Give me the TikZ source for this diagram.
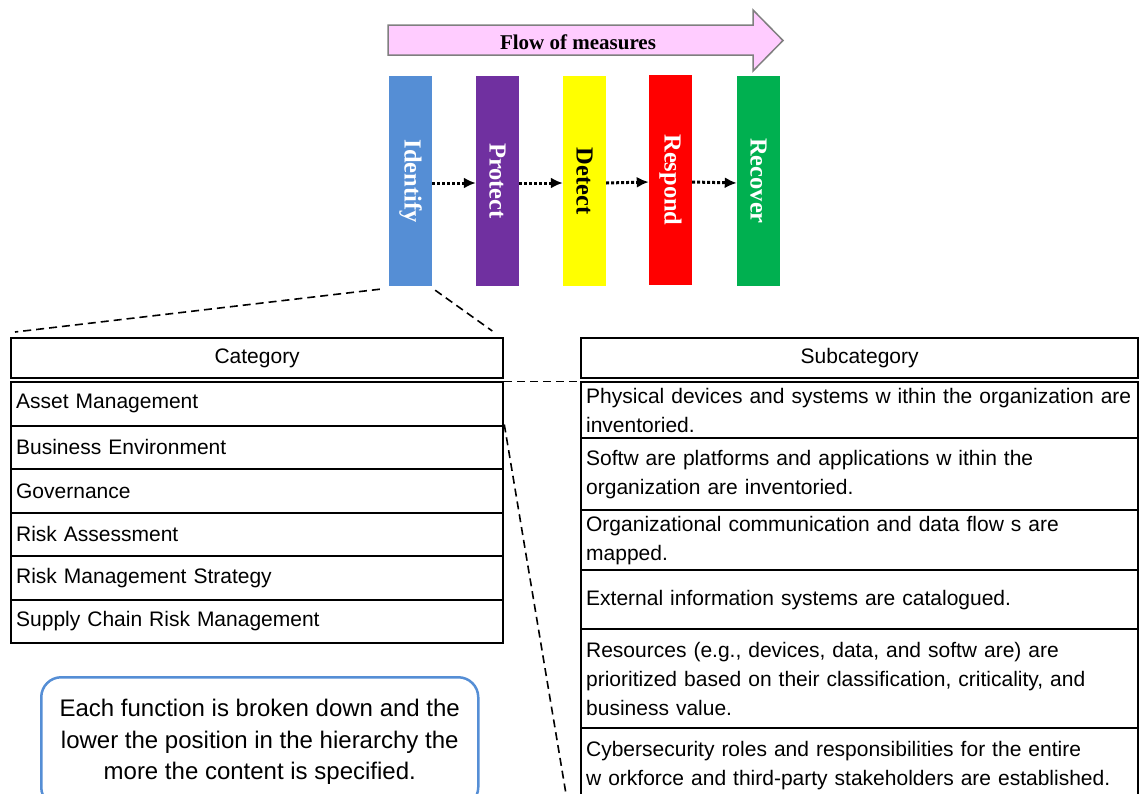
\documentclass[tikz,border=0pt]{standalone}
\usepackage{fontspec}
\usepackage{graphicx}
\setmainfont{Liberation Serif}
\newfontfamily\arialf{Liberation Sans}
\newfontfamily\timesf{Liberation Serif}
\usetikzlibrary{arrows.meta,calc}
\definecolor{idblue}{HTML}{558ED5}
\definecolor{prpurple}{HTML}{7030A0}
\definecolor{deyellow}{HTML}{FFFF00}
\definecolor{rered}{HTML}{FF0000}
\definecolor{recgreen}{HTML}{00B050}
\definecolor{flowpink}{HTML}{FFCCFF}
\definecolor{flowgray}{HTML}{7F7F7F}
\begin{document}
\begin{tikzpicture}[x=1pt,y=-1pt,
  func/.style={minimum width=43pt, minimum height=210pt, inner sep=0pt,
    font=\timesf\bfseries\fontsize{24.5}{28}\selectfont},
  flowdot/.style={line width=3pt, dash pattern=on 3pt off 2pt,
    -{Latex[length=12pt,width=11pt]}},
  flowarrow/.style={fill=flowpink, draw=flowgray, line width=1.5pt},
  tbl/.style={draw=black, line width=2.3pt, anchor=north west, inner xsep=5pt,
    inner ysep=0pt, font=\arialf\fontsize{21}{29}\selectfont},
  cathead/.style={tbl, minimum width=492pt, minimum height=40pt, align=center},
  catrow/.style={tbl, minimum width=492pt, minimum height=43.5pt,
    text width=482pt, align=left},
  subhead/.style={tbl, minimum width=557pt, minimum height=40pt, align=center},
  subrow/.style={tbl, minimum width=557pt, text width=547pt, align=left},
  guide/.style={line width=1.6pt, dash pattern=on 8pt off 5pt},
  notebox/.style={draw=idblue, line width=2.5pt, rounded corners=20pt,
    anchor=north west, minimum width=437pt, minimum height=130pt,
    align=center, font=\arialf\fontsize{24}{31.5}\selectfont}
]
\useasboundingbox (0,0) rectangle (1139,793);
\clip (0,0) rectangle (1139,793);

% flow arrow
\draw[flowarrow] (388,25) -- (753,25) -- (753,10) -- (783,40.5) -- (753,71)
  -- (753,55) -- (388,55) -- cycle;
\node[font=\timesf\bfseries\fontsize{21}{25}\selectfont] (flow) at (578,42)
  {Flow of measures};

% functions
\node[func, fill=idblue, text=white] (id) at (410.5,181) {\rotatebox{-90}{Identify}};
\node[func, fill=prpurple, text=white] (pr) at (497.5,181) {\rotatebox{-90}{Protect}};
\node[func, fill=deyellow, text=black] (de) at (584.5,181) {\rotatebox{-90}{Detect}};
\node[func, fill=rered, text=white] (rs) at (670.5,180) {\rotatebox{-90}{Respond}};
\node[func, fill=recgreen, text=white] (rc) at (758.5,181) {\rotatebox{-90}{Recover}};

\draw[flowdot] ([yshift=-2pt]id.east) -- ([yshift=-2pt]pr.west);
\draw[flowdot] ([yshift=-2pt]pr.east) -- ([yshift=-2pt]de.west);
\draw[flowdot] ([yshift=-2pt]de.east) -- ([yshift=-2pt]rs.west);
\draw[flowdot] ([yshift=-2pt]rs.east) -- ([yshift=-2pt]rc.west);

% category table
\node[cathead] (cath) at (10,337) {Category};
\node[catrow] (c1) at (10,381) {Asset Management};
\node[catrow] (c2) at (10,424.5) {Business Environment};
\node[catrow] (c3) at (10,468) {Governance};
\node[catrow] (c4) at (10,511.5) {Risk Assessment};
\node[catrow] (c5) at (10,555) {Risk Management Strategy};
\node[catrow] (c6) at (10,598.5) {Supply Chain Risk Management};

% subcategory table
\node[subhead] (subh) at (580,337) {Subcategory};
\node[subrow, minimum height=56pt] (s1) at (580,381)
  {Physical devices and systems w ithin the organization are\\inventoried.};
\node[subrow, minimum height=72pt] (s2) at (580,437)
  {Softw are platforms and applications w ithin the\\organization are inventoried.};
\node[subrow, minimum height=60pt] (s3) at (580,509)
  {Organizational communication and data flow s are\\mapped.};
\node[subrow, minimum height=59pt] (s4) at (580,569)
  {External information systems are catalogued.};
\node[subrow, minimum height=99pt] (s5) at (580,628)
  {Resources (e.g., devices, data, and softw are) are\\prioritized based on their classification, criticality, and\\business value.};
\node[subrow, minimum height=74pt] (s6) at (580,727)
  {Cybersecurity roles and responsibilities for the entire\\w orkforce and third-party stakeholders are established.};

% guides
\draw[guide] ([shift={(-9,3)}]id.south west) -- ([shift={(5,-5)}]cath.north west);
\draw[guide] ([shift={(3,4)}]id.south east) -- ([shift={(-12,-6)}]cath.north east);
\draw[guide] ([yshift=-2pt]cath.south east) -- ([yshift=-2pt]subh.south west);
\coordinate (lowend) at (567,800);
\draw[guide] (c2.north east) -- (lowend);

% note
\node[notebox] (note) at (40,676)
  {Each function is broken down and the\\lower the position in the hierarchy the\\more the content is specified.};
\end{tikzpicture}
\end{document}
